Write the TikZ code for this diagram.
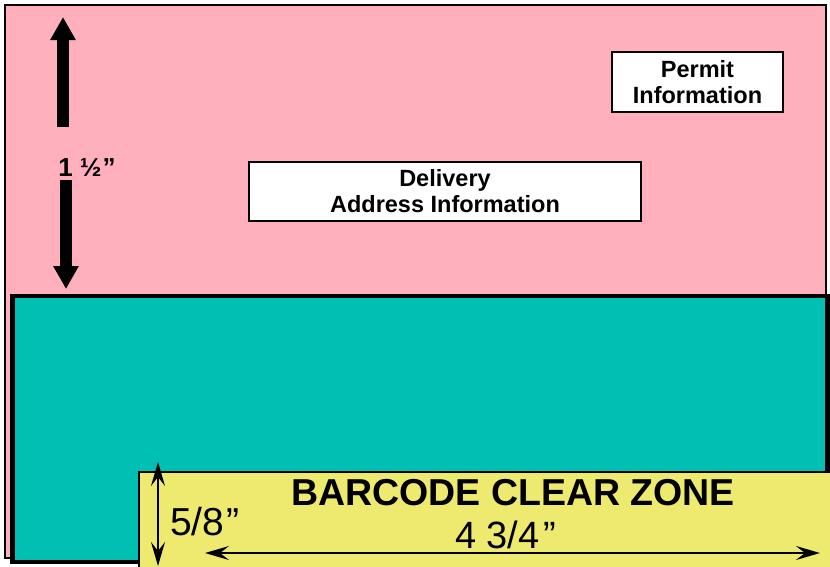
\documentclass[tikz,border=0pt]{standalone}
\usepackage{fontspec}
\setmainfont{Liberation Sans}
\usetikzlibrary{arrows.meta}
\definecolor{permitpink}{RGB}{255,176,188}
\definecolor{clearteal}{RGB}{0,191,179}
\definecolor{zoneyellow}{RGB}{238,234,112}

\begin{document}
\begin{tikzpicture}[x=1pt, y=-1pt,
    infobox/.style={draw=black, line width=1.5pt, fill=white, align=center, inner sep=0pt, font=\bfseries\fontsize{23.5}{26}\selectfont},
    bigarrow/.style={line width=12.5pt, -{Triangle[width=24pt,length=23pt]}},
    dimarrow/.style={line width=2pt, {Stealth[length=24pt,width=14pt,inset=9pt]}-{Stealth[length=24pt,width=14pt,inset=9pt]}}]
      \useasboundingbox (0,0) rectangle (830,566);

      \draw[fill=permitpink, line width=2pt] (5,4.5) rectangle (826,558);
      \draw[fill=clearteal, line width=4.5pt] (12.5,296) rectangle (827.5,562);
      \draw[fill=zoneyellow, line width=2pt] (138.5,472) rectangle (832,568);

      \node[infobox, minimum width=171pt, minimum height=60pt] (permit) at (697.5,82) {Permit\\Information};
      \node[infobox, minimum width=392pt, minimum height=59pt] (delivery) at (445,191.5) {Delivery\\Address Information};

      % 1 1/2 inch
      \coordinate (upbase) at (63,127);
      \coordinate (uptip) at (63,17);
      \coordinate (downbase) at (66,180);
      \coordinate (downtip) at (66,289);
      \draw[bigarrow] (upbase) -- (uptip);
      \draw[bigarrow] (downbase) -- (downtip);
      \node[inner sep=0pt, font=\bfseries\fontsize{26}{30}\selectfont] (halfinch) at (87,168) {1 ½\hspace{1pt}”};

      % clear zone
      \coordinate (zonetop) at (158,462);
      \coordinate (zonebot) at (158,566);
      \coordinate (zoneleft) at (205,553);
      \coordinate (zoneright) at (820,553);
      \draw[dimarrow] (zonetop) -- (zonebot);
      \draw[dimarrow] (zoneleft) -- (zoneright);
      \node[anchor=base west, inner sep=0pt, font=\fontsize{39}{44}\selectfont] (heightlbl) at (170,535) {5/8\hspace{2pt}”};
      \node[anchor=base west, inner sep=0pt, font=\fontsize{38}{44}\selectfont] (widthlbl) at (455,548) {4 3/4\hspace{4pt}”};
      \node[anchor=base, inner sep=0pt, font=\bfseries\fontsize{37.5}{42}\selectfont] (zone) at (513,505) {BARCODE CLEAR ZONE};
\end{tikzpicture}
\end{document}
